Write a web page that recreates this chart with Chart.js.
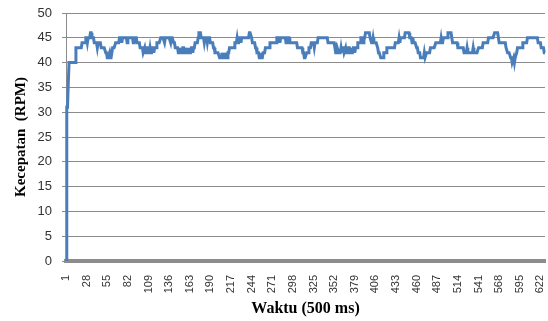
<!DOCTYPE html>
<html>
<head>
<meta charset="utf-8">
<script src="https://cdn.jsdelivr.net/npm/chart.js@4"></script>
<style>
  html, body { margin: 0; padding: 0; background: #fff; }
  #wrap { width: 548px; height: 321px; }
</style>
</head>
<body>
<div id="wrap"><canvas id="myChart" width="548" height="321"></canvas></div>
<script>
// kecepatan (RPM) tiap 500 ms
const rpm = [
  0, 31, 31, 36, 40, 40, 40, 40, 40, 40, 40, 40, 40,
  43, 43, 43, 43, 43, 43, 43, 43,
  44, 44, 44, 44, 44,
  45, 45, 44, 45, 45, 45,
  46, 46,
  45, 45, 45,
  44, 44, 44, 44, 43, 44, 44, 44, 44, 43, 43,
  43, 43, 43, 43,
  42, 42, 41, 41, 41, 42, 41, 41, 41,
  43, 43, 43, 43,
  44, 44, 44, 44, 44,
  45, 45, 45, 44, 45, 45, 45, 45, 45, 45, 44, 45, 45, 45, 45, 45, 45, 45, 44, 45, 45, 45, 45,
  44, 44, 44, 44,
  43, 43, 43, 43,
  42, 42, 43, 42, 42, 43, 43, 42, 42, 43, 42, 42, 43, 43, 42, 43,
  43, 43, 44, 44, 44, 44, 44,
  45, 45, 45, 45, 45, 44, 45, 45, 45, 45, 45, 45, 45, 44, 45, 45, 45,
  44, 44, 43, 43, 43, 43,
  42, 42, 43, 42, 42, 42, 43, 43, 42, 42, 43, 42, 42, 42, 43, 42, 42, 43, 43, 42, 43, 43,
  44, 44, 44, 44,
  45, 46, 46, 46, 45, 45,
  45, 45, 44, 45, 45, 45, 44, 45, 45, 45,
  44, 44, 44, 44, 43, 43, 42,
  42, 42, 42, 42, 42, 41, 41, 41, 42, 41, 41, 41, 42, 41, 41, 41, 42, 42,
  43, 43, 43, 43, 43, 43, 43,
  44, 44, 44, 45, 44, 44, 45, 45, 44, 45,
  45, 45, 45, 45, 45, 45, 45, 45, 45,
  46, 46, 46,
  45, 44, 44, 44, 44, 43, 43,
  42, 42, 42, 41, 41, 42, 41, 41, 42, 42, 42,
  43, 43, 43, 43, 43, 43,
  44, 44, 44, 44, 44, 44, 44, 44, 44,
  45, 45, 45, 45, 44, 45, 45, 45, 45, 45, 45, 45, 44, 45, 45, 45, 45,
  44, 44, 44, 44, 44, 44, 44, 44, 44, 44,
  43, 43, 43, 43, 43, 43, 43,
  42, 42, 41, 41, 41, 42, 42, 42, 43, 43,
  43, 44, 44, 44, 44, 43, 44, 44, 44, 44,
  45, 45, 45, 45, 45, 45, 45, 45, 45, 45, 45, 45, 45,
  44, 44, 44, 44, 44, 44, 44, 44, 44,
  43, 42, 42, 43, 43, 42, 42, 42, 43, 42, 43, 43, 42, 42, 43, 42, 42, 43, 43, 43, 42, 43, 42, 42, 43, 43, 42, 43, 43, 43,
  44, 44, 44, 44, 45, 45, 45, 44, 45, 45,
  46, 46, 46, 46, 46, 46,
  45, 45, 44, 44, 45, 44, 44, 44, 44, 44, 43,
  42, 42, 42, 41, 41, 41, 41, 42, 42, 42, 42,
  43, 43, 43, 43, 43, 43, 43, 43, 43, 43, 43,
  44, 44, 44, 44, 44, 45, 44, 45, 45, 45, 45, 45, 45,
  46, 46, 46, 46, 46, 46,
  45, 45, 45, 44, 45, 44, 44, 44, 44, 43, 43,
  42, 42, 42, 41, 41, 41, 41, 41, 42, 41, 41, 42, 42, 42, 42, 42,
  43, 43, 43, 43, 43, 43, 43,
  44, 44, 44, 44, 44, 44, 44, 45, 44, 44, 45, 45, 45, 45, 45, 45,
  46, 46, 46, 46, 46, 46,
  44, 44, 44, 44, 44, 44, 44,
  43, 43, 43, 43, 43, 43, 43, 43,
  42, 42, 42, 42, 43, 42, 42, 42, 42, 42, 42, 42, 43, 42, 42, 42, 42, 42, 42,
  43, 43, 43, 43, 43, 43, 44, 44, 44, 44, 44, 44, 44,
  45, 45, 45, 45, 45, 45, 45, 45,
  46, 46, 46, 46, 46,
  45, 44, 44, 44, 44, 44, 44, 44, 44, 44,
  43, 43, 42, 42, 42, 42,
  41, 41, 40, 40, 41, 40, 41, 41, 42,
  43, 43, 43, 43, 43, 43, 43,
  44, 44, 44, 44, 44, 44,
  45, 45, 45, 45, 45, 45, 45, 45, 45, 45, 45, 45, 45, 45,
  44, 44, 44, 44,
  43, 43, 43, 43, 42, 42
];

const tickLabels = [1, 28, 55, 82, 109, 136, 163, 190, 217, 244, 271, 298,
  325, 352, 379, 406, 433, 460, 487, 514, 541, 568, 595, 622];

const yTicks = [0, 5, 10, 15, 20, 25, 30, 35, 40, 45, 50];

const labels = rpm.map((v, i) => String(i + 1));

const config = {
  type: "line",
  data: {
    labels: labels,
    datasets: [{
      data: rpm,
      borderColor: "#4a7ebb",
      borderWidth: 3,
      pointRadius: 0,
      tension: 0,
      fill: false,
    }]
  },
  options: {
    responsive: false,
    animation: false,
    layout: { padding: { top: 13, right: 3, left: 0, bottom: 0 } },
    scales: {
      x: {
        grid: { display: false },
        border: { color: "#8c8c8c", width: 4 },
        ticks: {
          autoSkip: false,
          minRotation: 90,
          maxRotation: 90,
          padding: 6,
          color: "#333",
          font: { family: "Liberation Sans", size: 11 },
          callback: function (value, index) {
            const n = index + 1;
            return tickLabels.includes(n) ? String(n) : null;
          }
        },
        title: {
          display: true,
          text: "Waktu (500 ms)",
          color: "#000",
          font: { family: "Liberation Serif", size: 16, weight: "bold" },
          padding: { top: 0, bottom: 3 }
        },
        afterFit: function (scale) {
          scale.height = 60;
          scale.paddingLeft = 0;
          scale.paddingRight = 0;
        }
      },
      y: {
        min: 0,
        max: 50,
        afterBuildTicks: function (scale) {
          scale.ticks = yTicks.map(v => ({ value: v }));
        },
        grid: { color: "#8c8c8c", tickLength: 4 },
        border: { color: "#8c8c8c" },
        ticks: {
          padding: 10,
          color: "#333",
          font: { family: "Liberation Sans", size: 13 }
        },
        title: {
          display: true,
          text: "Kecepatan  (RPM)",
          color: "#000",
          font: { family: "Liberation Serif", size: 15, weight: "bold" },
          padding: { top: 12, bottom: 0 }
        },
        afterFit: function (scale) {
          scale.width = 66;
          scale.paddingTop = 0;
          scale.paddingBottom = 0;
        }
      }
    },
    plugins: {
      legend: { display: false },
      tooltip: { enabled: false }
    }
  }
};

const ctx = document.getElementById("myChart").getContext("2d");
const myChart = new Chart(ctx, config);
</script>
</body>
</html>
